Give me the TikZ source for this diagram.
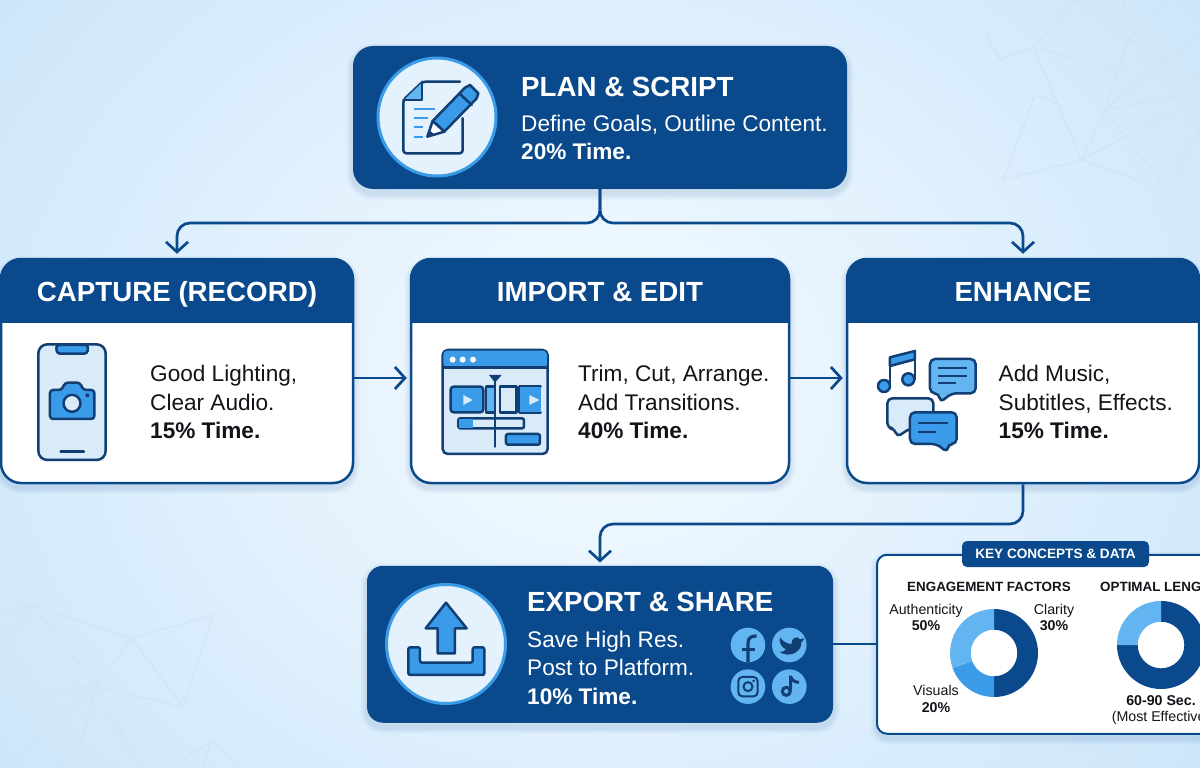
\documentclass[tikz,border=0pt]{standalone}
\usepackage{fontspec}
\setmainfont{Liberation Sans}
\usetikzlibrary{arrows.meta}

\definecolor{navy}{HTML}{0A4A8C}
\definecolor{ink}{HTML}{123F73}
\definecolor{midblue}{HTML}{3A9BE8}
\definecolor{skyblue}{HTML}{62B5F0}
\definecolor{paleblue}{HTML}{D9EBF9}
\definecolor{halo}{HTML}{E3F2FC}
\definecolor{mesh}{HTML}{CFE4F3}
\definecolor{blacktext}{HTML}{111418}
\definecolor{bgcenter}{HTML}{F5FBFF}
\definecolor{bgedge}{HTML}{CDE6FA}

\tikzset{
  softshadow/.style={
    preaction={draw=navy,draw opacity=.035,fill=none,line width=13pt,transform canvas={yshift=-4pt}},
    preaction={draw=navy,draw opacity=.04,fill=none,line width=9pt,transform canvas={yshift=-4pt}},
    preaction={draw=navy,draw opacity=.05,fill=none,line width=5pt,transform canvas={yshift=-4pt}}},
  navybox/.style={fill=navy,rounded corners=20pt,inner sep=0pt,softshadow},
  cardbox/.style={draw=navy,line width=2.5pt,fill=white,rounded corners=20pt,inner sep=0pt,softshadow,minimum height=224pt},
  flow/.style={draw=navy,line width=2.7pt,rounded corners=13pt,-{Straight Barb[length=10pt,width=22pt,line width=2.7pt]}},
  link/.style={draw=navy,line width=1.6pt},
  headtext/.style={text=white,font=\fontsize{27.7pt}{30pt}\selectfont\bfseries,inner sep=0pt,anchor=base},
  titletext/.style={headtext,anchor=base west},
  bodytext/.style={text=blacktext,font=\fontsize{22.6pt}{28.5pt}\selectfont,align=left,anchor=west,inner sep=0pt},
  whitetext/.style={bodytext,text=white},
  smalltext/.style={text=blacktext,font=\fontsize{14.2pt}{16.5pt}\selectfont,align=center,inner sep=0pt},
  smallhead/.style={text=blacktext,font=\fontsize{13.4pt}{16pt}\selectfont\bfseries,inner sep=0pt},
  iconcircle/.style={draw=midblue,line width=3pt,fill=halo,circle,inner sep=0pt},
  icon/.style={draw=ink,line width=2.5pt,line join=round,line cap=round},
  mline/.style={draw=mesh,line width=.9pt}
}

\begin{document}
\begin{tikzpicture}[x=1pt,y=-1pt]

\newcommand\card[4]{
\node[cardbox,minimum width=#3pt-#2pt] (#1) at ({(#2+#3)/2},371) {};
\begin{scope}
\clip (#2-2,257) rectangle (#3+2,322);
\fill[navy,rounded corners=20pt] (#2,259) rectangle (#3,370);
\end{scope}
\node[headtext] (#1head) at (#1 |- 0,301) {#4};
}
\newcommand\ring[6]{
\fill[#6] (#1,#2) ++(#3:44pt) arc (#3:#4:44pt) -- ++(#4+180:20.7pt) arc (#4:#3:23.3pt) -- cycle;
}

\useasboundingbox (0,0) rectangle (1200,768);
\clip (0,0) rectangle (1200,768);
\shade[inner color=bgcenter,outer color=bgedge] (-150,-250) rectangle (1350,1018);

%% mesh, top right
\begin{scope}[shift={(960,0)},x=.3333pt,y=-.3333pt]
\draw[mline] (75,100)--(120,178)--(220,140)--(345,0)--(505,120)--(490,0);
\draw[mline] (505,120)--(630,0);
\draw[mline] (220,140)--(470,215);
\draw[mline] (220,140)--(365,480)--(435,330)--(505,120)--(720,235);
\draw[mline] (720,100)--(615,180)--(445,320);
\draw[mline] (435,330)--(720,275);
\draw[mline] (435,330)--(495,410)--(600,540);
\draw[mline] (365,480)--(495,410)--(720,300);
\draw[mline] (365,480)--(530,540);
\draw[mline] (365,480)--(130,540);
\draw[mline] (290,310)--(225,285)--(130,540);
\draw[mline] (720,380)--(640,540);
\draw[mline] (700,0)--(720,60);
\end{scope}

%% mesh, bottom left
\begin{scope}[shift={(0,590)},x=.3333pt,y=-.3333pt]
\draw[mline] (0,65)--(100,45)--(0,195);
\draw[mline] (100,45)--(395,145)--(638,75)--(550,350)--(395,145)--(288,290)--(100,45);
\draw[mline] (0,315)--(288,290)--(550,350);
\draw[mline] (288,290)--(35,515)--(15,534);
\draw[mline] (0,450)--(45,534);
\draw[mline] (288,290)--(238,480)--(180,534);
\draw[mline] (238,480)--(250,534);
\draw[mline] (238,480)--(345,534);
\draw[mline] (288,290)--(420,534);
\draw[mline] (515,534)--(635,452)--(715,534);
\draw[mline] (635,452)--(605,534);
\end{scope}

%% top box
\node[navybox,minimum width=494pt,minimum height=143pt] (plan) at (600,117.5) {};
\node[iconcircle,minimum size=118pt] (planicon) at (437,117) {};
\node[titletext] (plantitle) at (521,96) {PLAN \& SCRIPT};
\node[whitetext] (plantext) at (521,137.5) {Define Goals, Outline Content.\\\textbf{20\% Time.}};

\begin{scope}[shift={(350,40)},x=.3333pt,y=-.3333pt]
\draw[icon,rounded corners=3pt] (338,235)--(338,340)--(160,340)--(160,180)--(218,125)--(330,125);
\fill[skyblue] (162,180)--(216,128)--(216,180)--cycle;
\draw[icon] (160,180)--(216,180)--(216,125);
\draw[midblue,line width=2pt] (192,208)--(255,208) (192,235)--(235,235) (192,262)--(220,262) (192,290)--(218,290);
\draw[icon,fill=midblue] (248,243)--(345,143)--(360,135)--(385,160)--(380,175)--(283,275)--cycle;
\draw[icon,fill=white] (232,290)--(248,243)--(283,275)--cycle;
\fill[ink] (232,290)--(238,270)--(252,283)--cycle;
\draw[icon] (328,160)--(365,195);
\end{scope}

%% three cards
\card{capture}{1}{353}{CAPTURE (RECORD)}
\card{import}{411}{789}{IMPORT \& EDIT}
\card{enhance}{847}{1199}{ENHANCE}

\node[bodytext] (capturetext) at (150,402) {Good Lighting,\\Clear Audio.\\\textbf{15\% Time.}};
\node[bodytext] (importtext) at (578,402) {Trim, Cut, Arrange.\\Add Transitions.\\\textbf{40\% Time.}};
\node[bodytext] (enhancetext) at (998.5,402) {Add Music,\\Subtitles, Effects.\\\textbf{15\% Time.}};

%% phone
\begin{scope}[shift={(0,250)},x=.3333pt,y=-.3333pt]
\draw[icon,fill=paleblue,rounded corners=9pt] (115,283) rectangle (317,630);
\draw[icon,fill=midblue,rounded corners=3pt] (168,285)--(265,285)--(262,311)--(171,311)--cycle;
\draw[icon] (182,605)--(252,605);
\draw[icon,fill=midblue,rounded corners=3pt] (150,420)--(185,420)--(195,398)--(240,398)--(250,420)--(283,420)--(283,507)--(150,507)--cycle;
\draw[icon,fill=paleblue] (216,460) circle (8.5pt);
\fill[ink] (262,436) circle (2pt);
\end{scope}

%% edit window
\begin{scope}[shift={(400,250)},x=.3333pt,y=-.3333pt]
\draw[icon,fill=paleblue,rounded corners=5pt] (128,300) rectangle (443,612);
\fill[midblue,rounded corners=4pt] (130,302) rectangle (441,352);
\draw[icon] (128,352)--(443,352);
\foreach \dotx in {158,188,219} \fill[white] (\dotx,329) circle (3pt);
\draw[icon,fill=midblue,rounded corners=3pt] (152,410) rectangle (250,487);
\draw[icon,fill=skyblue] (258,410) rectangle (285,487);
\draw[icon,fill=paleblue] (300,410) rectangle (350,487);
\draw[icon,fill=midblue] (358,410)--(422,410) (422,487)--(358,487)--(358,410);
\fill[midblue] (360,412) rectangle (422,485);
\fill[paleblue] (190,435)--(218,450)--(190,465)--cycle;
\fill[paleblue] (388,435)--(418,450)--(388,465)--cycle;
\draw[icon,fill=paleblue,rounded corners=2pt] (175,505) rectangle (372,535);
\fill[midblue] (177,507) rectangle (218,533);
\draw[icon,fill=midblue,rounded corners=2pt] (318,552) rectangle (420,584);
\draw[icon] (285,380)--(285,590);
\fill[ink] (267,375)--(305,375)--(285,398)--cycle;
\end{scope}

%% note and speech bubbles
\begin{scope}[shift={(800,250)},x=.3333pt,y=-.3333pt]
\draw[icon,fill=midblue] (270,322)--(345,303)--(345,328)--(270,348)--cycle;
\draw[icon] (270,408)--(270,322) (345,388)--(345,303);
\draw[icon,fill=midblue] (252,408) circle (6pt);
\draw[icon,fill=midblue] (325,388) circle (6pt);
\draw[icon,fill=skyblue,rounded corners=5pt] (390,327)--(527,327)--(527,430)--(455,430)--(420,458)--(418,430)--(390,430)--cycle;
\draw[ink,line width=2pt] (415,355)--(502,355) (415,378)--(502,378) (415,400)--(468,400);
\draw[icon,fill=paleblue,rounded corners=5pt] (262,445)--(400,445)--(400,535)--(330,535)--(290,562)--(285,535)--(262,535)--cycle;
\draw[icon,fill=midblue,rounded corners=5pt] (330,487)--(470,487)--(470,582)--(443,582)--(443,608)--(410,582)--(330,582)--cycle;
\draw[ink,line width=2pt] (355,520)--(445,520) (355,545)--(408,545);
\end{scope}

%% bottom box
\node[navybox,rounded corners=16pt,minimum width=466pt,minimum height=157pt] (export) at (600,644.25) {};
\node[iconcircle,minimum size=119pt] (exporticon) at (446,644) {};
\node[titletext] (exporttitle) at (527,611) {EXPORT \& SHARE};
\node[whitetext] (exporttext) at (527,667.5) {Save High Res.\\Post to Platform.\\\textbf{10\% Time.}};

\begin{scope}[shift={(360,510)},x=.3333pt,y=-.3333pt]
\draw[icon,fill=midblue] (258,278)--(320,355)--(285,355)--(285,430)--(233,430)--(233,355)--(197,355)--cycle;
\draw[icon,fill=midblue,rounded corners=2pt] (145,412)--(180,412)--(180,458)--(338,458)--(338,412)--(373,412)--(373,495)--(145,495)--cycle;
\foreach \socx/\socy in {1164/405,1288/405,1164/530,1288/530} \fill[skyblue] (\socx,\socy) circle (17.3pt);
%% facebook
\draw[ink,line width=3.2pt] (1164,456)--(1164,400) .. controls (1164,382) and (1175,378) .. (1190,378);
\draw[ink,line width=3pt] (1145,418)--(1186,418);
%% twitter
\fill[ink] (1260,382) .. controls (1272,398) and (1285,402) .. (1295,402) .. controls (1292,385) and (1312,375) .. (1320,388) -- (1334,385) -- (1324,398) .. controls (1325,420) and (1300,440) .. (1272,432) -- (1258,426) .. controls (1268,426) and (1276,422) .. (1278,418) .. controls (1264,412) and (1256,396) .. (1260,382) -- cycle;
%% instagram
\draw[ink,line width=2pt,rounded corners=4pt] (1135,501) rectangle (1193,559);
\draw[ink,line width=2pt] (1164,530) circle (4.5pt);
\fill[ink] (1181,513) circle (1.4pt);
%% tiktok
\draw[ink,line width=3pt] (1292,497)--(1292,540) (1292,500) .. controls (1296,512) and (1306,517) .. (1317,517);
\draw[ink,line width=3pt] (1279,544) circle (4pt);
\end{scope}

%% panel
\node[draw=navy,line width=2pt,fill=white,rounded corners=10pt,inner sep=0pt,softshadow,minimum width=422pt,minimum height=179pt] (panel) at (1088,644.25) {};
\node[fill=navy,rounded corners=5pt,minimum width=187pt,minimum height=26pt,inner sep=0pt,text=white,font=\fontsize{13.6pt}{16pt}\selectfont\bfseries] (paneltag) at (1055.5,554) {KEY CONCEPTS \& DATA};
\node[smallhead] (factorshead) at (989,587) {ENGAGEMENT FACTORS};
\node[smallhead,anchor=west] (lengthhead) at (1100,587) {OPTIMAL LENGTH};

\ring{994}{653}{90}{-90}{0}{navy}
\ring{994}{653}{-90}{-160}{0}{midblue}
\ring{994}{653}{200}{90}{0}{skyblue}
\ring{1161}{645}{90}{-180}{0}{navy}
\ring{1161}{645}{180}{90}{0}{skyblue}

\node[smalltext] (authtext) at (926,617.5) {Authenticity\\\textbf{50\%}};
\node[smalltext] (claritytext) at (1054,617.5) {Clarity\\\textbf{30\%}};
\node[smalltext] (visualstext) at (936,699) {Visuals\\\textbf{20\%}};
\node[smalltext] (lengthtext) at (1161,710) {\textbf{60-90 Sec.}\\(Most Effective)};

%% connectors
\coordinate (fork) at (600,223);
\coordinate (merge) at (600,524);
\draw[flow,shorten >=4pt] (plan.south) -- (fork) -| (capture.north);
\draw[flow,shorten >=4pt] (plan.south) -- (fork) -| (enhance.north);
\draw[flow,shorten >=3pt,rounded corners=0pt] ([yshift=-7pt]capture.east) -- ([yshift=-7pt]import.west);
\draw[flow,shorten >=3pt,rounded corners=0pt] ([yshift=-7pt]import.east) -- ([yshift=-7pt]enhance.west);
\draw[flow,shorten >=3pt] (enhance.south) |- (merge) -- (export.north);
\draw[link] (export.east) -- (panel.west);

\end{tikzpicture}
\end{document}
